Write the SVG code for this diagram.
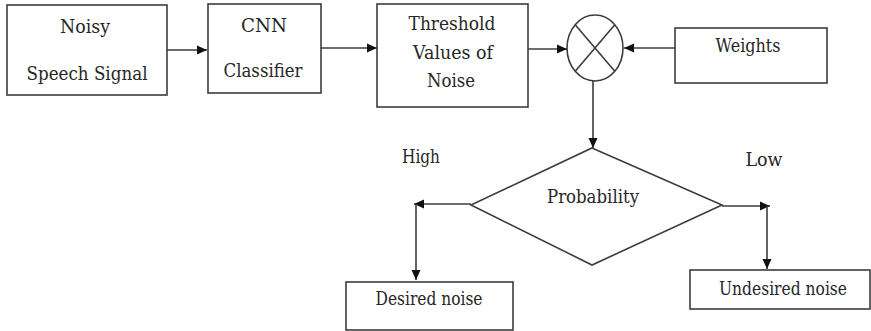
<svg xmlns="http://www.w3.org/2000/svg" width="871" height="331" viewBox="0 0 871 331">
  <style>
    .box { fill: #ffffff; stroke: #3c3c3c; stroke-width: 1.6; }
    .lbl { font-family: "DejaVu Serif", serif; font-size: 18px; fill: #262626; text-anchor: middle; }
    .wire { fill: none; stroke: #3c3c3c; stroke-width: 1.6; }
  </style>
  <defs>
    <marker id="arrow" viewBox="0 0 10 10" refX="10" refY="5" markerWidth="10" markerHeight="10" markerUnits="userSpaceOnUse" orient="auto">
      <path d="M0,0.5 L10,5 L0,9.5 Z" fill="#111111"/>
    </marker>
  </defs>
  <rect width="871" height="331" fill="#ffffff"/>

  <g id="noisy-speech-signal">
    <rect class="box" x="7" y="5" width="160" height="90"/>
    <text class="lbl" x="85" y="33" textLength="50" lengthAdjust="spacingAndGlyphs">Noisy</text>
    <text class="lbl" x="87" y="80" textLength="121" lengthAdjust="spacingAndGlyphs">Speech Signal</text>
  </g>

  <g id="cnn-classifier">
    <rect class="box" x="208" y="4" width="113" height="89"/>
    <text class="lbl" x="264" y="32" textLength="46" lengthAdjust="spacingAndGlyphs">CNN</text>
    <text class="lbl" x="263" y="77" textLength="79" lengthAdjust="spacingAndGlyphs">Classifier</text>
  </g>

  <g id="threshold-values">
    <rect class="box" x="377" y="4" width="151" height="103"/>
    <text class="lbl" x="452" y="30" textLength="87" lengthAdjust="spacingAndGlyphs">Threshold</text>
    <text class="lbl" x="453" y="59" textLength="80" lengthAdjust="spacingAndGlyphs">Values of</text>
    <text class="lbl" x="451" y="87" textLength="48" lengthAdjust="spacingAndGlyphs">Noise</text>
  </g>

  <g id="multiplier">
    <ellipse class="box" cx="595" cy="48" rx="28" ry="33"/>
    <line class="wire" x1="575.2" y1="24.7" x2="614.8" y2="71.3"/>
    <line class="wire" x1="614.8" y1="24.7" x2="575.2" y2="71.3"/>
  </g>

  <g id="weights">
    <rect class="box" x="675" y="28" width="152" height="55"/>
    <text class="lbl" x="748" y="52" textLength="65" lengthAdjust="spacingAndGlyphs">Weights</text>
  </g>

  <g id="probability">
    <polygon class="box" points="592,148 722,205 592,265 471,205"/>
    <text class="lbl" x="593" y="203" textLength="92" lengthAdjust="spacingAndGlyphs">Probability</text>
  </g>

  <g id="desired-noise">
    <rect class="box" x="346" y="282" width="167" height="48"/>
    <text class="lbl" x="429" y="305" textLength="107" lengthAdjust="spacingAndGlyphs">Desired noise</text>
  </g>

  <g id="undesired-noise">
    <rect class="box" x="690" y="270" width="180" height="39"/>
    <text class="lbl" x="783" y="295" textLength="128" lengthAdjust="spacingAndGlyphs">Undesired noise</text>
  </g>

  <g id="branch-labels">
    <text class="lbl" x="421" y="163" textLength="38" lengthAdjust="spacingAndGlyphs">High</text>
    <text class="lbl" x="764" y="166" textLength="37" lengthAdjust="spacingAndGlyphs">Low</text>
  </g>

  <g id="connectors">
    <line class="wire" x1="167" y1="50" x2="207" y2="50" marker-end="url(#arrow)"/>
    <line class="wire" x1="321" y1="48" x2="377" y2="48" marker-end="url(#arrow)"/>
    <line class="wire" x1="528" y1="49" x2="567" y2="49" marker-end="url(#arrow)"/>
    <line class="wire" x1="675" y1="48" x2="624" y2="48" marker-end="url(#arrow)"/>
    <line class="wire" x1="593" y1="81" x2="593" y2="148" marker-end="url(#arrow)"/>
    <line class="wire" x1="471" y1="204" x2="414" y2="204" marker-end="url(#arrow)"/>
    <line class="wire" x1="416" y1="204" x2="416" y2="280" marker-end="url(#arrow)"/>
    <line class="wire" x1="722" y1="206" x2="770" y2="206" marker-end="url(#arrow)"/>
    <line class="wire" x1="767" y1="206" x2="767" y2="269" marker-end="url(#arrow)"/>
  </g>
</svg>
